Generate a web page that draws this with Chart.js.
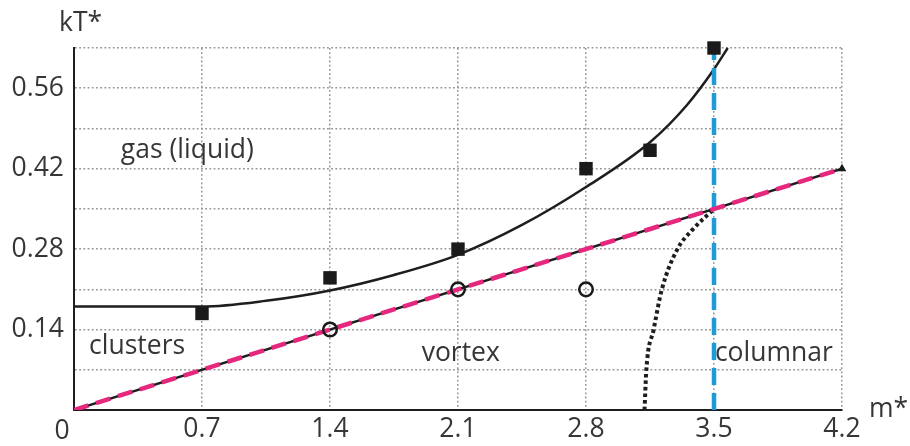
<!DOCTYPE html>
<html>
<head>
<meta charset="utf-8">
<script src="https://cdn.jsdelivr.net/npm/chart.js@4"></script>
<style>
  html, body { margin: 0; padding: 0; background: #ffffff; }
  #wrap { width: 910px; height: 446px; position: relative; }
</style>
</head>
<body>
<div id="wrap"><canvas id="c" width="910" height="446"></canvas></div>
<script>
// ---- data ----
const xTickValues = [0, 0.7, 1.4, 2.1, 2.8, 3.5, 4.2];
const yTickValues = [0, 0.07, 0.14, 0.21, 0.28, 0.35, 0.42, 0.49, 0.56, 0.63];
const yLabelValues = [0.14, 0.28, 0.42, 0.56];

const squareX = [0.7, 1.4, 2.1, 2.8, 3.15, 3.5];
const squareY = [0.168, 0.23, 0.28, 0.42, 0.452, 0.63];

const circleX = [1.4, 2.1, 2.8];
const circleY = [0.14, 0.21, 0.21];

const triangleX = [4.2];
const triangleY = [0.42];

const lineX = [0, 4.2];
const lineY = [0, 0.42];

const curveX = [0, 0.7, 1.05, 1.4, 1.75, 2.1, 2.45, 2.8, 3.15, 3.35, 3.5, 3.575];
const curveY = [0.18, 0.18, 0.19, 0.208, 0.235, 0.27, 0.322, 0.388, 0.466, 0.53, 0.593, 0.63];

const dottedX = [3.12, 3.13, 3.17, 3.215, 3.3, 3.38, 3.5];
const dottedY = [0, 0.07, 0.14, 0.21, 0.28, 0.313, 0.35];

const columnX = [3.5, 3.5];
const columnY = [0, 0.63];

const regionLabels = ['gas (liquid)', 'clusters', 'vortex', 'columnar'];
const regionLabelX = [0.62, 0.345, 2.115, 3.505];
const regionLabelY = [0.452, 0.11, 0.099, 0.099];
const regionLabelAlign = ['center', 'center', 'center', 'left'];

const xTitle = 'm*';
const yTitle = 'kT*';
const originLabel = '0';

// ---- helpers ----
const pts = (xs, ys) => xs.map((x, i) => ({ x: x, y: ys[i] }));
const FONT = '"Open Sans", "Noto Sans", sans-serif';
const FSIZE = 26.5;
const TEXT = '#363636';

const textPlugin = {
  id: 'texts',
  beforeDatasetsDraw(chart) {
    const ctx = chart.ctx;
    const xs = chart.scales.x, ys = chart.scales.y;
    ctx.save();
    ctx.fillStyle = TEXT;
    ctx.font = FSIZE + 'px ' + FONT;
    ctx.textBaseline = 'middle';
    regionLabels.forEach((t, i) => {
      ctx.textAlign = regionLabelAlign[i];
      ctx.fillText(t, xs.getPixelForValue(regionLabelX[i]), ys.getPixelForValue(regionLabelY[i]));
    });
    ctx.restore();
  },
  afterDraw(chart) {
    const ctx = chart.ctx;
    const area = chart.chartArea;
    ctx.save();
    ctx.fillStyle = TEXT;
    ctx.font = FSIZE + 'px ' + FONT;
    ctx.textBaseline = 'middle';
    ctx.textAlign = 'left';
    ctx.fillText(yTitle, area.left - 15, area.top - 25);
    ctx.fillText(xTitle, area.right + 27, area.bottom - 1);
    ctx.textAlign = 'center';
    ctx.fillText(originLabel, area.left - 12, area.bottom + 21);
    ctx.restore();
  }
};

const gridOpts = {
  color: '#959595',
  lineWidth: 1.5,
  drawTicks: false
};
const borderOpts = { display: true, color: '#1e1e1e', width: 2, dash: [1.8, 2.4] };

new Chart(document.getElementById('c'), {
  type: 'scatter',
  data: {
    datasets: [
      {
        label: 'squares', data: pts(squareX, squareY), order: 0, clip: false,
        pointStyle: 'rect', pointRadius: 9.5, backgroundColor: '#1a1a1a', borderColor: '#1a1a1a', borderWidth: 0,
        showLine: false
      },
      {
        label: 'circles', data: pts(circleX, circleY), order: 1,
        pointStyle: 'circle', pointRadius: 6.8, backgroundColor: 'rgba(255,255,255,0)', borderColor: '#1a1a1a', borderWidth: 2.5,
        showLine: false
      },
      {
        label: 'triangle', data: pts(triangleX, triangleY), order: 1, clip: false,
        pointStyle: 'triangle', pointRadius: 5, backgroundColor: '#1a1a1a', borderColor: '#1a1a1a', borderWidth: 0,
        showLine: false
      },
      {
        label: 'pink', data: pts(lineX, lineY), order: 2,
        showLine: true, borderColor: '#e5287e', borderWidth: 4.5, borderDash: [15, 8], pointRadius: 0
      },
      {
        label: 'black line', data: pts(lineX, lineY), order: 3,
        showLine: true, borderColor: '#1e1e1e', borderWidth: 2.5, pointRadius: 0
      },
      {
        label: 'column', data: pts(columnX, columnY), order: 2,
        showLine: true, borderColor: '#1f9bd8', borderWidth: 4.5, borderDash: [17, 8], pointRadius: 0
      },
      {
        label: 'curve', data: pts(curveX, curveY), order: 4, clip: false,
        showLine: true, borderColor: '#1e1e1e', borderWidth: 2.5, pointRadius: 0,
        cubicInterpolationMode: 'monotone'
      },
      {
        label: 'dotted', data: pts(dottedX, dottedY), order: 4,
        showLine: true, borderColor: '#1e1e1e', borderWidth: 4, borderDash: [3.5, 3], pointRadius: 0,
        cubicInterpolationMode: 'monotone'
      }
    ]
  },
  options: {
    responsive: false,
    animation: false,
    events: [],
    layout: { padding: { top: 48, right: 68, left: 0, bottom: 0 } },
    plugins: { legend: { display: false }, tooltip: { enabled: false }, title: { display: false } },
    scales: {
      x: {
        type: 'linear', min: 0, max: 4.2,
        afterBuildTicks(scale) { scale.ticks = xTickValues.map(v => ({ value: v })); },
        afterFit(scale) { scale.height = 36; },
        grid: gridOpts,
        border: borderOpts,
        ticks: {
          autoSkip: false, maxRotation: 0, padding: 4,
          color: TEXT, font: { family: FONT, size: FSIZE },
          callback: (v) => v === 0 ? '' : String(v)
        }
      },
      y: {
        type: 'linear', min: 0, max: 0.63,
        afterBuildTicks(scale) { scale.ticks = yTickValues.map(v => ({ value: v })); },
        afterFit(scale) { scale.width = 74; },
        grid: gridOpts,
        border: borderOpts,
        ticks: {
          autoSkip: false, padding: 10,
          color: TEXT, font: { family: FONT, size: FSIZE },
          callback: (v) => yLabelValues.some(l => Math.abs(l - v) < 1e-6) ? v.toFixed(2) : ''
        }
      }
    }
  },
  plugins: [textPlugin]
});
</script>
</body>
</html>
